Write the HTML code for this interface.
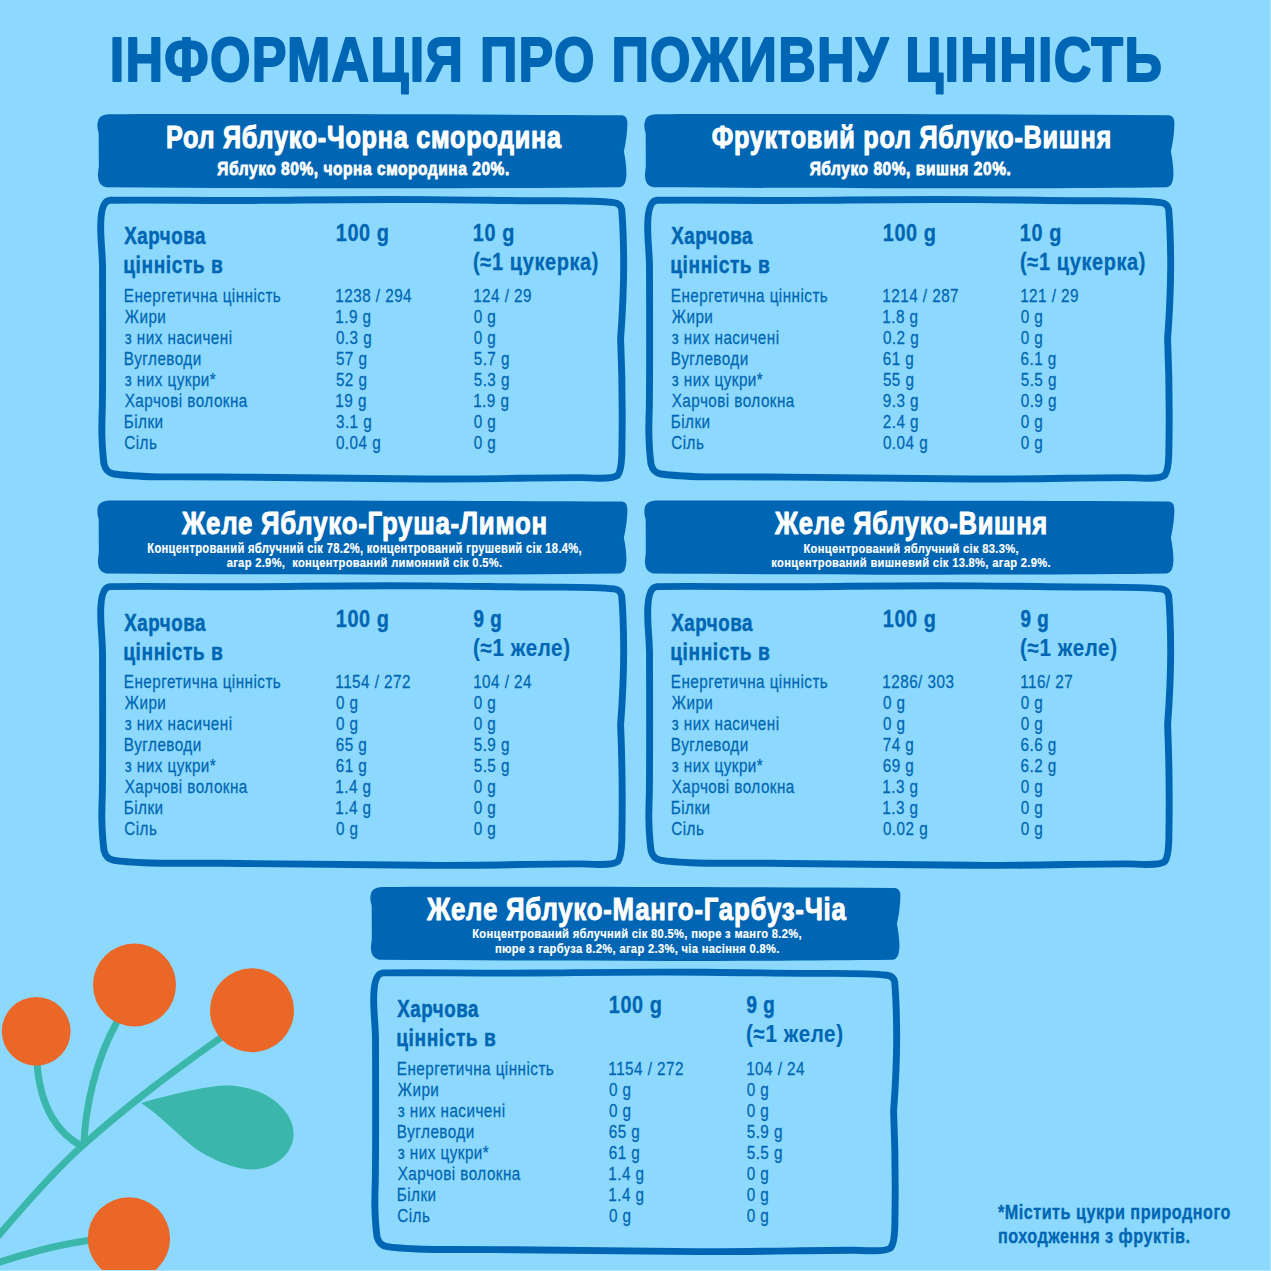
<!DOCTYPE html>
<html><head><meta charset="utf-8"><title>Інформація про поживну цінність</title>
<style>html,body{margin:0;padding:0;background:#8cd9fd;} body{width:1271px;height:1271px;overflow:hidden;font-family:"Liberation Sans",sans-serif;}</style>
</head><body>
<svg width="1271" height="1271" viewBox="0 0 1271 1271" style="display:block">
<defs>
<path id="banner" d="M108.5,114.3 C250,113.8 450,114.2 622,115.3 Q627.4,115.8 627.4,123.4 C627.3,132 626,142 623.9,151.5 C625.6,160 626.6,168 626.4,175 Q626,186.5 620,187.2 C480,188.9 300,188.6 106,187.2 Q98.2,185.5 97.9,176 C97.8,172 98.8,169.5 98.8,166 L98.7,133 C97.6,130 97.3,127 97.4,123.4 Q98,114.6 108.5,114.3 Z" fill="#0066b3"/>
<path id="box" d="M110,200.3 C160,199.6 200,200.9 260,200.4 C320,199.9 350,199.1 430,199.6 C480,199.9 520,200.9 560,200.8 C590,200.9 605,201.6 614,202.6 Q620.6,203.4 621.7,209.5 C622.6,220 623.6,245 623.7,265 C623.6,290 622,320 620.6,338.7 C622.4,380 622.5,420 621.8,455 C621.4,466 620.6,472 617.6,475.4 C614.6,478 608,478.3 598.9,478.2 C590,478 585,477.6 580,477.6 C540,477.5 480,479.4 424,479 C380,478.6 300,477.6 223,477 C190,476.8 160,477 150,476.7 C135,476 120,475 114,474 C108,473 105.5,470 104,464 C102.8,455 102,445 101.8,430 C102,420 102,415 102.3,409 C102.8,380 102.6,300 102.5,266 C102.2,250 100.5,240 100.7,225 Q101,201 110,200.3 Z" fill="none" stroke="#0066b3" stroke-width="6.9" stroke-linejoin="round"/>
</defs>
<rect width="1271" height="1271" fill="#8cd9fd"/>
<use href="#banner" transform="translate(0,0)"/><use href="#box" transform="translate(0,0)"/><use href="#banner" transform="translate(547,0)"/><use href="#box" transform="translate(547,0)"/><use href="#banner" transform="translate(0,386.3)"/><use href="#box" transform="translate(0,386.3)"/><use href="#banner" transform="translate(547,386.3)"/><use href="#box" transform="translate(547,386.3)"/><use href="#banner" transform="translate(273,772.6)"/><use href="#box" transform="translate(273,772.6)"/>

<g fill="none" stroke="#3bb6aa" stroke-width="7" stroke-linecap="round">
  <path d="M-6,1241 C20,1210 50,1175 82,1146 C130,1103 175,1070 226,1034"/>
  <path d="M82,1146 C60,1135 40,1110 37,1062"/>
  <path d="M84,1144 C85,1110 95,1060 118,1020"/>
  <path d="M-6,1264 C30,1252 60,1244 92,1240"/>
</g>
<path fill="#3bb6aa" d="M141,1103 C165,1096 205,1086 225,1085.5 C262,1085 293,1108 293.6,1133 C294,1156 272,1170 251,1169.5 C232,1169 210,1158 196,1149 C180,1137 160,1115 141,1103 Z"/>
<g fill="#ea6727">
  <circle cx="36.2" cy="1031.3" r="34.4"/>
  <circle cx="134.5" cy="985" r="41.5"/>
  <circle cx="252" cy="1010.3" r="42"/>
  <circle cx="128.9" cy="1238.5" r="41.2"/>
</g>

<rect x="0" y="1270" width="1271" height="1" fill="#aee6fe"/>
<rect x="1270" y="0" width="1" height="1271" fill="#aee6fe"/>
<g font-family="Liberation Sans, sans-serif" style="white-space:pre">
<text transform="matrix(0.8342 0 0 1 109.64 80.69)" font-size="62.36" font-weight="bold" fill="#0066b3" stroke="#0066b3" stroke-width="1.930" stroke-linejoin="round" letter-spacing="1.559">ІНФОРМАЦІЯ ПРО ПОЖИВНУ ЦІННІСТЬ</text>
<text transform="matrix(0.8121 0 0 1 165.96 147.56)" font-size="31.02" font-weight="bold" fill="#fff" stroke="#fff" stroke-width="1.075" stroke-linejoin="round" letter-spacing="0.931">Рол Яблуко-Чорна смородина</text>
<text transform="matrix(0.8337 0 0 1 217.37 175.40)" font-size="18.62" font-weight="bold" fill="#fff" stroke="#fff" stroke-width="0.797" stroke-linejoin="round" letter-spacing="0.652">Яблуко 80%, чорна смородина 20%.</text>
<text transform="matrix(0.8124 0 0 1 711.70 147.56)" font-size="31.02" font-weight="bold" fill="#fff" stroke="#fff" stroke-width="1.072" stroke-linejoin="round" letter-spacing="0.931">Фруктовий рол Яблуко-Вишня</text>
<text transform="matrix(0.8338 0 0 1 809.67 175.40)" font-size="18.62" font-weight="bold" fill="#fff" stroke="#fff" stroke-width="0.796" stroke-linejoin="round" letter-spacing="0.652">Яблуко 80%, вишня 20%.</text>
<text transform="matrix(0.8266 0 0 1 181.98 534.02)" font-size="31.20" font-weight="bold" fill="#fff" stroke="#fff" stroke-width="0.952" stroke-linejoin="round" letter-spacing="0.936">Желе Яблуко-Груша-Лимон</text>
<text transform="matrix(0.8140 0 0 1 147.23 552.61)" font-size="13.71" font-weight="bold" fill="#fff" stroke="#fff" stroke-width="0.176" stroke-linejoin="round" letter-spacing="0.411">Концентрований яблучний сік 78.2%, концентрований грушевий сік 18.4%,</text>
<text transform="matrix(0.8122 0 0 1 226.64 567.21)" font-size="13.70" font-weight="bold" fill="#fff" stroke="#fff" stroke-width="0.182" stroke-linejoin="round" letter-spacing="0.411">агар 2.9%, &#160;концентрований лимонний сік 0.5%.</text>
<text transform="matrix(0.8198 0 0 1 775.00 534.00)" font-size="31.12" font-weight="bold" fill="#fff" stroke="#fff" stroke-width="1.008" stroke-linejoin="round" letter-spacing="0.933">Желе Яблуко-Вишня</text>
<text transform="matrix(0.8130 0 0 1 803.43 552.61)" font-size="13.70" font-weight="bold" fill="#fff" stroke="#fff" stroke-width="0.179" stroke-linejoin="round" letter-spacing="0.411">Концентрований яблучний сік 83.3%,</text>
<text transform="matrix(0.8131 0 0 1 771.29 567.21)" font-size="13.70" font-weight="bold" fill="#fff" stroke="#fff" stroke-width="0.179" stroke-linejoin="round" letter-spacing="0.411">концентрований вишневий сік 13.8%, агар 2.9%.</text>
<text transform="matrix(0.8274 0 0 1 426.88 920.33)" font-size="31.21" font-weight="bold" fill="#fff" stroke="#fff" stroke-width="0.945" stroke-linejoin="round" letter-spacing="0.936">Желе Яблуко-Манго-Гарбуз-Чіа</text>
<text transform="matrix(0.8129 0 0 1 472.23 938.21)" font-size="13.70" font-weight="bold" fill="#fff" stroke="#fff" stroke-width="0.180" stroke-linejoin="round" letter-spacing="0.411">Концентрований яблучний сік 80.5%, пюре з манго 8.2%,</text>
<text transform="matrix(0.8129 0 0 1 494.89 952.81)" font-size="13.70" font-weight="bold" fill="#fff" stroke="#fff" stroke-width="0.180" stroke-linejoin="round" letter-spacing="0.411">пюре з гарбуза 8.2%, агар 2.3%, чіа насіння 0.8%.</text>
<text transform="matrix(0.8054 0 0 1 124.21 244.25)" font-size="23.28" font-weight="bold" fill="#0066b3" stroke="#0066b3" stroke-width="0.497" stroke-linejoin="round" letter-spacing="0.698">Харчова</text>
<text transform="matrix(0.8195 0 0 1 123.23 273.49)" font-size="23.40" font-weight="bold" fill="#0066b3" stroke="#0066b3" stroke-width="0.414" stroke-linejoin="round" letter-spacing="0.702">цінність в</text>
<text transform="matrix(0.8483 0 0 1 335.76 240.86)" font-size="23.45" font-weight="bold" fill="#0066b3" stroke="#0066b3" stroke-width="0.277" stroke-linejoin="round" letter-spacing="0.704">100 g</text>
<text transform="matrix(0.8478 0 0 1 472.86 240.86)" font-size="23.45" font-weight="bold" fill="#0066b3" stroke="#0066b3" stroke-width="0.280" stroke-linejoin="round" letter-spacing="0.703">10 g</text>
<text transform="matrix(0.8514 0 0 1 473.11 269.67)" font-size="23.48" font-weight="bold" fill="#0066b3" stroke="#0066b3" stroke-width="0.261" stroke-linejoin="round" letter-spacing="0.704">(≈1 цукерка)</text>
<text transform="matrix(0.8530 0 0 1 123.78 302.17)" font-size="17.90" font-weight="normal" fill="#0066b3" stroke="#0066b3" stroke-width="0.252" stroke-linejoin="round" letter-spacing="0.537">Енергетична цінність</text>
<text transform="matrix(0.8530 0 0 1 335.34 302.17)" font-size="17.90" font-weight="normal" fill="#0066b3" stroke="#0066b3" stroke-width="0.252" stroke-linejoin="round" letter-spacing="0.537">1238 / 294</text>
<text transform="matrix(0.8530 0 0 1 473.14 302.17)" font-size="17.90" font-weight="normal" fill="#0066b3" stroke="#0066b3" stroke-width="0.252" stroke-linejoin="round" letter-spacing="0.537">124 / 29</text>
<text transform="matrix(0.8530 0 0 1 124.85 323.17)" font-size="17.90" font-weight="normal" fill="#0066b3" stroke="#0066b3" stroke-width="0.252" stroke-linejoin="round" letter-spacing="0.537">Жири</text>
<text transform="matrix(0.8530 0 0 1 335.34 323.17)" font-size="17.90" font-weight="normal" fill="#0066b3" stroke="#0066b3" stroke-width="0.252" stroke-linejoin="round" letter-spacing="0.537">1.9 g</text>
<text transform="matrix(0.8530 0 0 1 473.70 323.17)" font-size="17.90" font-weight="normal" fill="#0066b3" stroke="#0066b3" stroke-width="0.252" stroke-linejoin="round" letter-spacing="0.537">0 g</text>
<text transform="matrix(0.8530 0 0 1 124.70 344.17)" font-size="17.90" font-weight="normal" fill="#0066b3" stroke="#0066b3" stroke-width="0.252" stroke-linejoin="round" letter-spacing="0.537">з них насичені</text>
<text transform="matrix(0.8530 0 0 1 335.90 344.17)" font-size="17.90" font-weight="normal" fill="#0066b3" stroke="#0066b3" stroke-width="0.252" stroke-linejoin="round" letter-spacing="0.537">0.3 g</text>
<text transform="matrix(0.8530 0 0 1 473.70 344.17)" font-size="17.90" font-weight="normal" fill="#0066b3" stroke="#0066b3" stroke-width="0.252" stroke-linejoin="round" letter-spacing="0.537">0 g</text>
<text transform="matrix(0.8530 0 0 1 123.78 365.17)" font-size="17.90" font-weight="normal" fill="#0066b3" stroke="#0066b3" stroke-width="0.252" stroke-linejoin="round" letter-spacing="0.537">Вуглеводи</text>
<text transform="matrix(0.8530 0 0 1 335.90 365.17)" font-size="17.90" font-weight="normal" fill="#0066b3" stroke="#0066b3" stroke-width="0.252" stroke-linejoin="round" letter-spacing="0.537">57 g</text>
<text transform="matrix(0.8530 0 0 1 473.70 365.17)" font-size="17.90" font-weight="normal" fill="#0066b3" stroke="#0066b3" stroke-width="0.252" stroke-linejoin="round" letter-spacing="0.537">5.7 g</text>
<text transform="matrix(0.8530 0 0 1 124.70 386.17)" font-size="17.90" font-weight="normal" fill="#0066b3" stroke="#0066b3" stroke-width="0.252" stroke-linejoin="round" letter-spacing="0.537">з них цукри*</text>
<text transform="matrix(0.8530 0 0 1 335.90 386.17)" font-size="17.90" font-weight="normal" fill="#0066b3" stroke="#0066b3" stroke-width="0.252" stroke-linejoin="round" letter-spacing="0.537">52 g</text>
<text transform="matrix(0.8530 0 0 1 473.70 386.17)" font-size="17.90" font-weight="normal" fill="#0066b3" stroke="#0066b3" stroke-width="0.252" stroke-linejoin="round" letter-spacing="0.537">5.3 g</text>
<text transform="matrix(0.8530 0 0 1 124.70 407.17)" font-size="17.90" font-weight="normal" fill="#0066b3" stroke="#0066b3" stroke-width="0.252" stroke-linejoin="round" letter-spacing="0.537">Харчові волокна</text>
<text transform="matrix(0.8530 0 0 1 335.34 407.17)" font-size="17.90" font-weight="normal" fill="#0066b3" stroke="#0066b3" stroke-width="0.252" stroke-linejoin="round" letter-spacing="0.537">19 g</text>
<text transform="matrix(0.8530 0 0 1 473.14 407.17)" font-size="17.90" font-weight="normal" fill="#0066b3" stroke="#0066b3" stroke-width="0.252" stroke-linejoin="round" letter-spacing="0.537">1.9 g</text>
<text transform="matrix(0.8530 0 0 1 123.78 428.17)" font-size="17.90" font-weight="normal" fill="#0066b3" stroke="#0066b3" stroke-width="0.252" stroke-linejoin="round" letter-spacing="0.537">Білки</text>
<text transform="matrix(0.8530 0 0 1 335.95 428.17)" font-size="17.90" font-weight="normal" fill="#0066b3" stroke="#0066b3" stroke-width="0.252" stroke-linejoin="round" letter-spacing="0.537">3.1 g</text>
<text transform="matrix(0.8530 0 0 1 473.70 428.17)" font-size="17.90" font-weight="normal" fill="#0066b3" stroke="#0066b3" stroke-width="0.252" stroke-linejoin="round" letter-spacing="0.537">0 g</text>
<text transform="matrix(0.8530 0 0 1 124.29 449.17)" font-size="17.90" font-weight="normal" fill="#0066b3" stroke="#0066b3" stroke-width="0.252" stroke-linejoin="round" letter-spacing="0.537">Сіль</text>
<text transform="matrix(0.8530 0 0 1 335.90 449.17)" font-size="17.90" font-weight="normal" fill="#0066b3" stroke="#0066b3" stroke-width="0.252" stroke-linejoin="round" letter-spacing="0.537">0.04 g</text>
<text transform="matrix(0.8530 0 0 1 473.70 449.17)" font-size="17.90" font-weight="normal" fill="#0066b3" stroke="#0066b3" stroke-width="0.252" stroke-linejoin="round" letter-spacing="0.537">0 g</text>
<text transform="matrix(0.8054 0 0 1 671.21 244.25)" font-size="23.28" font-weight="bold" fill="#0066b3" stroke="#0066b3" stroke-width="0.497" stroke-linejoin="round" letter-spacing="0.698">Харчова</text>
<text transform="matrix(0.8195 0 0 1 670.23 273.49)" font-size="23.40" font-weight="bold" fill="#0066b3" stroke="#0066b3" stroke-width="0.414" stroke-linejoin="round" letter-spacing="0.702">цінність в</text>
<text transform="matrix(0.8483 0 0 1 882.76 240.86)" font-size="23.45" font-weight="bold" fill="#0066b3" stroke="#0066b3" stroke-width="0.277" stroke-linejoin="round" letter-spacing="0.704">100 g</text>
<text transform="matrix(0.8478 0 0 1 1019.86 240.86)" font-size="23.45" font-weight="bold" fill="#0066b3" stroke="#0066b3" stroke-width="0.280" stroke-linejoin="round" letter-spacing="0.703">10 g</text>
<text transform="matrix(0.8514 0 0 1 1020.11 269.67)" font-size="23.48" font-weight="bold" fill="#0066b3" stroke="#0066b3" stroke-width="0.261" stroke-linejoin="round" letter-spacing="0.704">(≈1 цукерка)</text>
<text transform="matrix(0.8530 0 0 1 670.78 302.17)" font-size="17.90" font-weight="normal" fill="#0066b3" stroke="#0066b3" stroke-width="0.252" stroke-linejoin="round" letter-spacing="0.537">Енергетична цінність</text>
<text transform="matrix(0.8530 0 0 1 882.34 302.17)" font-size="17.90" font-weight="normal" fill="#0066b3" stroke="#0066b3" stroke-width="0.252" stroke-linejoin="round" letter-spacing="0.537">1214 / 287</text>
<text transform="matrix(0.8530 0 0 1 1020.14 302.17)" font-size="17.90" font-weight="normal" fill="#0066b3" stroke="#0066b3" stroke-width="0.252" stroke-linejoin="round" letter-spacing="0.537">121 / 29</text>
<text transform="matrix(0.8530 0 0 1 671.85 323.17)" font-size="17.90" font-weight="normal" fill="#0066b3" stroke="#0066b3" stroke-width="0.252" stroke-linejoin="round" letter-spacing="0.537">Жири</text>
<text transform="matrix(0.8530 0 0 1 882.34 323.17)" font-size="17.90" font-weight="normal" fill="#0066b3" stroke="#0066b3" stroke-width="0.252" stroke-linejoin="round" letter-spacing="0.537">1.8 g</text>
<text transform="matrix(0.8530 0 0 1 1020.70 323.17)" font-size="17.90" font-weight="normal" fill="#0066b3" stroke="#0066b3" stroke-width="0.252" stroke-linejoin="round" letter-spacing="0.537">0 g</text>
<text transform="matrix(0.8530 0 0 1 671.70 344.17)" font-size="17.90" font-weight="normal" fill="#0066b3" stroke="#0066b3" stroke-width="0.252" stroke-linejoin="round" letter-spacing="0.537">з них насичені</text>
<text transform="matrix(0.8530 0 0 1 882.90 344.17)" font-size="17.90" font-weight="normal" fill="#0066b3" stroke="#0066b3" stroke-width="0.252" stroke-linejoin="round" letter-spacing="0.537">0.2 g</text>
<text transform="matrix(0.8530 0 0 1 1020.70 344.17)" font-size="17.90" font-weight="normal" fill="#0066b3" stroke="#0066b3" stroke-width="0.252" stroke-linejoin="round" letter-spacing="0.537">0 g</text>
<text transform="matrix(0.8530 0 0 1 670.78 365.17)" font-size="17.90" font-weight="normal" fill="#0066b3" stroke="#0066b3" stroke-width="0.252" stroke-linejoin="round" letter-spacing="0.537">Вуглеводи</text>
<text transform="matrix(0.8530 0 0 1 882.74 365.17)" font-size="17.90" font-weight="normal" fill="#0066b3" stroke="#0066b3" stroke-width="0.252" stroke-linejoin="round" letter-spacing="0.537">61 g</text>
<text transform="matrix(0.8530 0 0 1 1020.54 365.17)" font-size="17.90" font-weight="normal" fill="#0066b3" stroke="#0066b3" stroke-width="0.252" stroke-linejoin="round" letter-spacing="0.537">6.1 g</text>
<text transform="matrix(0.8530 0 0 1 671.70 386.17)" font-size="17.90" font-weight="normal" fill="#0066b3" stroke="#0066b3" stroke-width="0.252" stroke-linejoin="round" letter-spacing="0.537">з них цукри*</text>
<text transform="matrix(0.8530 0 0 1 882.90 386.17)" font-size="17.90" font-weight="normal" fill="#0066b3" stroke="#0066b3" stroke-width="0.252" stroke-linejoin="round" letter-spacing="0.537">55 g</text>
<text transform="matrix(0.8530 0 0 1 1020.70 386.17)" font-size="17.90" font-weight="normal" fill="#0066b3" stroke="#0066b3" stroke-width="0.252" stroke-linejoin="round" letter-spacing="0.537">5.5 g</text>
<text transform="matrix(0.8530 0 0 1 671.70 407.17)" font-size="17.90" font-weight="normal" fill="#0066b3" stroke="#0066b3" stroke-width="0.252" stroke-linejoin="round" letter-spacing="0.537">Харчові волокна</text>
<text transform="matrix(0.8530 0 0 1 882.79 407.17)" font-size="17.90" font-weight="normal" fill="#0066b3" stroke="#0066b3" stroke-width="0.252" stroke-linejoin="round" letter-spacing="0.537">9.3 g</text>
<text transform="matrix(0.8530 0 0 1 1020.70 407.17)" font-size="17.90" font-weight="normal" fill="#0066b3" stroke="#0066b3" stroke-width="0.252" stroke-linejoin="round" letter-spacing="0.537">0.9 g</text>
<text transform="matrix(0.8530 0 0 1 670.78 428.17)" font-size="17.90" font-weight="normal" fill="#0066b3" stroke="#0066b3" stroke-width="0.252" stroke-linejoin="round" letter-spacing="0.537">Білки</text>
<text transform="matrix(0.8530 0 0 1 882.74 428.17)" font-size="17.90" font-weight="normal" fill="#0066b3" stroke="#0066b3" stroke-width="0.252" stroke-linejoin="round" letter-spacing="0.537">2.4 g</text>
<text transform="matrix(0.8530 0 0 1 1020.70 428.17)" font-size="17.90" font-weight="normal" fill="#0066b3" stroke="#0066b3" stroke-width="0.252" stroke-linejoin="round" letter-spacing="0.537">0 g</text>
<text transform="matrix(0.8530 0 0 1 671.29 449.17)" font-size="17.90" font-weight="normal" fill="#0066b3" stroke="#0066b3" stroke-width="0.252" stroke-linejoin="round" letter-spacing="0.537">Сіль</text>
<text transform="matrix(0.8530 0 0 1 882.90 449.17)" font-size="17.90" font-weight="normal" fill="#0066b3" stroke="#0066b3" stroke-width="0.252" stroke-linejoin="round" letter-spacing="0.537">0.04 g</text>
<text transform="matrix(0.8530 0 0 1 1020.70 449.17)" font-size="17.90" font-weight="normal" fill="#0066b3" stroke="#0066b3" stroke-width="0.252" stroke-linejoin="round" letter-spacing="0.537">0 g</text>
<text transform="matrix(0.8054 0 0 1 124.21 630.55)" font-size="23.28" font-weight="bold" fill="#0066b3" stroke="#0066b3" stroke-width="0.497" stroke-linejoin="round" letter-spacing="0.698">Харчова</text>
<text transform="matrix(0.8195 0 0 1 123.23 659.79)" font-size="23.40" font-weight="bold" fill="#0066b3" stroke="#0066b3" stroke-width="0.414" stroke-linejoin="round" letter-spacing="0.702">цінність в</text>
<text transform="matrix(0.8483 0 0 1 335.76 627.16)" font-size="23.45" font-weight="bold" fill="#0066b3" stroke="#0066b3" stroke-width="0.277" stroke-linejoin="round" letter-spacing="0.704">100 g</text>
<text transform="matrix(0.8101 0 0 1 473.58 627.05)" font-size="23.13" font-weight="bold" fill="#0066b3" stroke="#0066b3" stroke-width="0.496" stroke-linejoin="round" letter-spacing="0.694">9 g</text>
<text transform="matrix(0.8702 0 0 1 473.04 656.02)" font-size="23.62" font-weight="bold" fill="#0066b3" stroke="#0066b3" stroke-width="0.161" stroke-linejoin="round" letter-spacing="0.709">(≈1 желе)</text>
<text transform="matrix(0.8530 0 0 1 123.78 688.47)" font-size="17.90" font-weight="normal" fill="#0066b3" stroke="#0066b3" stroke-width="0.252" stroke-linejoin="round" letter-spacing="0.537">Енергетична цінність</text>
<text transform="matrix(0.8530 0 0 1 335.34 688.47)" font-size="17.90" font-weight="normal" fill="#0066b3" stroke="#0066b3" stroke-width="0.252" stroke-linejoin="round" letter-spacing="0.537">1154 / 272</text>
<text transform="matrix(0.8530 0 0 1 473.14 688.47)" font-size="17.90" font-weight="normal" fill="#0066b3" stroke="#0066b3" stroke-width="0.252" stroke-linejoin="round" letter-spacing="0.537">104 / 24</text>
<text transform="matrix(0.8530 0 0 1 124.85 709.47)" font-size="17.90" font-weight="normal" fill="#0066b3" stroke="#0066b3" stroke-width="0.252" stroke-linejoin="round" letter-spacing="0.537">Жири</text>
<text transform="matrix(0.8530 0 0 1 335.90 709.47)" font-size="17.90" font-weight="normal" fill="#0066b3" stroke="#0066b3" stroke-width="0.252" stroke-linejoin="round" letter-spacing="0.537">0 g</text>
<text transform="matrix(0.8530 0 0 1 473.70 709.47)" font-size="17.90" font-weight="normal" fill="#0066b3" stroke="#0066b3" stroke-width="0.252" stroke-linejoin="round" letter-spacing="0.537">0 g</text>
<text transform="matrix(0.8530 0 0 1 124.70 730.47)" font-size="17.90" font-weight="normal" fill="#0066b3" stroke="#0066b3" stroke-width="0.252" stroke-linejoin="round" letter-spacing="0.537">з них насичені</text>
<text transform="matrix(0.8530 0 0 1 335.90 730.47)" font-size="17.90" font-weight="normal" fill="#0066b3" stroke="#0066b3" stroke-width="0.252" stroke-linejoin="round" letter-spacing="0.537">0 g</text>
<text transform="matrix(0.8530 0 0 1 473.70 730.47)" font-size="17.90" font-weight="normal" fill="#0066b3" stroke="#0066b3" stroke-width="0.252" stroke-linejoin="round" letter-spacing="0.537">0 g</text>
<text transform="matrix(0.8530 0 0 1 123.78 751.47)" font-size="17.90" font-weight="normal" fill="#0066b3" stroke="#0066b3" stroke-width="0.252" stroke-linejoin="round" letter-spacing="0.537">Вуглеводи</text>
<text transform="matrix(0.8530 0 0 1 335.74 751.47)" font-size="17.90" font-weight="normal" fill="#0066b3" stroke="#0066b3" stroke-width="0.252" stroke-linejoin="round" letter-spacing="0.537">65 g</text>
<text transform="matrix(0.8530 0 0 1 473.70 751.47)" font-size="17.90" font-weight="normal" fill="#0066b3" stroke="#0066b3" stroke-width="0.252" stroke-linejoin="round" letter-spacing="0.537">5.9 g</text>
<text transform="matrix(0.8530 0 0 1 124.70 772.47)" font-size="17.90" font-weight="normal" fill="#0066b3" stroke="#0066b3" stroke-width="0.252" stroke-linejoin="round" letter-spacing="0.537">з них цукри*</text>
<text transform="matrix(0.8530 0 0 1 335.74 772.47)" font-size="17.90" font-weight="normal" fill="#0066b3" stroke="#0066b3" stroke-width="0.252" stroke-linejoin="round" letter-spacing="0.537">61 g</text>
<text transform="matrix(0.8530 0 0 1 473.70 772.47)" font-size="17.90" font-weight="normal" fill="#0066b3" stroke="#0066b3" stroke-width="0.252" stroke-linejoin="round" letter-spacing="0.537">5.5 g</text>
<text transform="matrix(0.8530 0 0 1 124.70 793.47)" font-size="17.90" font-weight="normal" fill="#0066b3" stroke="#0066b3" stroke-width="0.252" stroke-linejoin="round" letter-spacing="0.537">Харчові волокна</text>
<text transform="matrix(0.8530 0 0 1 335.34 793.47)" font-size="17.90" font-weight="normal" fill="#0066b3" stroke="#0066b3" stroke-width="0.252" stroke-linejoin="round" letter-spacing="0.537">1.4 g</text>
<text transform="matrix(0.8530 0 0 1 473.70 793.47)" font-size="17.90" font-weight="normal" fill="#0066b3" stroke="#0066b3" stroke-width="0.252" stroke-linejoin="round" letter-spacing="0.537">0 g</text>
<text transform="matrix(0.8530 0 0 1 123.78 814.47)" font-size="17.90" font-weight="normal" fill="#0066b3" stroke="#0066b3" stroke-width="0.252" stroke-linejoin="round" letter-spacing="0.537">Білки</text>
<text transform="matrix(0.8530 0 0 1 335.34 814.47)" font-size="17.90" font-weight="normal" fill="#0066b3" stroke="#0066b3" stroke-width="0.252" stroke-linejoin="round" letter-spacing="0.537">1.4 g</text>
<text transform="matrix(0.8530 0 0 1 473.70 814.47)" font-size="17.90" font-weight="normal" fill="#0066b3" stroke="#0066b3" stroke-width="0.252" stroke-linejoin="round" letter-spacing="0.537">0 g</text>
<text transform="matrix(0.8530 0 0 1 124.29 835.47)" font-size="17.90" font-weight="normal" fill="#0066b3" stroke="#0066b3" stroke-width="0.252" stroke-linejoin="round" letter-spacing="0.537">Сіль</text>
<text transform="matrix(0.8530 0 0 1 335.90 835.47)" font-size="17.90" font-weight="normal" fill="#0066b3" stroke="#0066b3" stroke-width="0.252" stroke-linejoin="round" letter-spacing="0.537">0 g</text>
<text transform="matrix(0.8530 0 0 1 473.70 835.47)" font-size="17.90" font-weight="normal" fill="#0066b3" stroke="#0066b3" stroke-width="0.252" stroke-linejoin="round" letter-spacing="0.537">0 g</text>
<text transform="matrix(0.8054 0 0 1 671.21 630.55)" font-size="23.28" font-weight="bold" fill="#0066b3" stroke="#0066b3" stroke-width="0.497" stroke-linejoin="round" letter-spacing="0.698">Харчова</text>
<text transform="matrix(0.8195 0 0 1 670.23 659.79)" font-size="23.40" font-weight="bold" fill="#0066b3" stroke="#0066b3" stroke-width="0.414" stroke-linejoin="round" letter-spacing="0.702">цінність в</text>
<text transform="matrix(0.8483 0 0 1 882.76 627.16)" font-size="23.45" font-weight="bold" fill="#0066b3" stroke="#0066b3" stroke-width="0.277" stroke-linejoin="round" letter-spacing="0.704">100 g</text>
<text transform="matrix(0.8101 0 0 1 1020.58 627.05)" font-size="23.13" font-weight="bold" fill="#0066b3" stroke="#0066b3" stroke-width="0.496" stroke-linejoin="round" letter-spacing="0.694">9 g</text>
<text transform="matrix(0.8702 0 0 1 1020.04 656.02)" font-size="23.62" font-weight="bold" fill="#0066b3" stroke="#0066b3" stroke-width="0.161" stroke-linejoin="round" letter-spacing="0.709">(≈1 желе)</text>
<text transform="matrix(0.8530 0 0 1 670.78 688.47)" font-size="17.90" font-weight="normal" fill="#0066b3" stroke="#0066b3" stroke-width="0.252" stroke-linejoin="round" letter-spacing="0.537">Енергетична цінність</text>
<text transform="matrix(0.8530 0 0 1 882.34 688.47)" font-size="17.90" font-weight="normal" fill="#0066b3" stroke="#0066b3" stroke-width="0.252" stroke-linejoin="round" letter-spacing="0.537">1286/ 303</text>
<text transform="matrix(0.8530 0 0 1 1020.14 688.47)" font-size="17.90" font-weight="normal" fill="#0066b3" stroke="#0066b3" stroke-width="0.252" stroke-linejoin="round" letter-spacing="0.537">116/ 27</text>
<text transform="matrix(0.8530 0 0 1 671.85 709.47)" font-size="17.90" font-weight="normal" fill="#0066b3" stroke="#0066b3" stroke-width="0.252" stroke-linejoin="round" letter-spacing="0.537">Жири</text>
<text transform="matrix(0.8530 0 0 1 882.90 709.47)" font-size="17.90" font-weight="normal" fill="#0066b3" stroke="#0066b3" stroke-width="0.252" stroke-linejoin="round" letter-spacing="0.537">0 g</text>
<text transform="matrix(0.8530 0 0 1 1020.70 709.47)" font-size="17.90" font-weight="normal" fill="#0066b3" stroke="#0066b3" stroke-width="0.252" stroke-linejoin="round" letter-spacing="0.537">0 g</text>
<text transform="matrix(0.8530 0 0 1 671.70 730.47)" font-size="17.90" font-weight="normal" fill="#0066b3" stroke="#0066b3" stroke-width="0.252" stroke-linejoin="round" letter-spacing="0.537">з них насичені</text>
<text transform="matrix(0.8530 0 0 1 882.90 730.47)" font-size="17.90" font-weight="normal" fill="#0066b3" stroke="#0066b3" stroke-width="0.252" stroke-linejoin="round" letter-spacing="0.537">0 g</text>
<text transform="matrix(0.8530 0 0 1 1020.70 730.47)" font-size="17.90" font-weight="normal" fill="#0066b3" stroke="#0066b3" stroke-width="0.252" stroke-linejoin="round" letter-spacing="0.537">0 g</text>
<text transform="matrix(0.8530 0 0 1 670.78 751.47)" font-size="17.90" font-weight="normal" fill="#0066b3" stroke="#0066b3" stroke-width="0.252" stroke-linejoin="round" letter-spacing="0.537">Вуглеводи</text>
<text transform="matrix(0.8530 0 0 1 882.74 751.47)" font-size="17.90" font-weight="normal" fill="#0066b3" stroke="#0066b3" stroke-width="0.252" stroke-linejoin="round" letter-spacing="0.537">74 g</text>
<text transform="matrix(0.8530 0 0 1 1020.54 751.47)" font-size="17.90" font-weight="normal" fill="#0066b3" stroke="#0066b3" stroke-width="0.252" stroke-linejoin="round" letter-spacing="0.537">6.6 g</text>
<text transform="matrix(0.8530 0 0 1 671.70 772.47)" font-size="17.90" font-weight="normal" fill="#0066b3" stroke="#0066b3" stroke-width="0.252" stroke-linejoin="round" letter-spacing="0.537">з них цукри*</text>
<text transform="matrix(0.8530 0 0 1 882.74 772.47)" font-size="17.90" font-weight="normal" fill="#0066b3" stroke="#0066b3" stroke-width="0.252" stroke-linejoin="round" letter-spacing="0.537">69 g</text>
<text transform="matrix(0.8530 0 0 1 1020.54 772.47)" font-size="17.90" font-weight="normal" fill="#0066b3" stroke="#0066b3" stroke-width="0.252" stroke-linejoin="round" letter-spacing="0.537">6.2 g</text>
<text transform="matrix(0.8530 0 0 1 671.70 793.47)" font-size="17.90" font-weight="normal" fill="#0066b3" stroke="#0066b3" stroke-width="0.252" stroke-linejoin="round" letter-spacing="0.537">Харчові волокна</text>
<text transform="matrix(0.8530 0 0 1 882.34 793.47)" font-size="17.90" font-weight="normal" fill="#0066b3" stroke="#0066b3" stroke-width="0.252" stroke-linejoin="round" letter-spacing="0.537">1.3 g</text>
<text transform="matrix(0.8530 0 0 1 1020.70 793.47)" font-size="17.90" font-weight="normal" fill="#0066b3" stroke="#0066b3" stroke-width="0.252" stroke-linejoin="round" letter-spacing="0.537">0 g</text>
<text transform="matrix(0.8530 0 0 1 670.78 814.47)" font-size="17.90" font-weight="normal" fill="#0066b3" stroke="#0066b3" stroke-width="0.252" stroke-linejoin="round" letter-spacing="0.537">Білки</text>
<text transform="matrix(0.8530 0 0 1 882.34 814.47)" font-size="17.90" font-weight="normal" fill="#0066b3" stroke="#0066b3" stroke-width="0.252" stroke-linejoin="round" letter-spacing="0.537">1.3 g</text>
<text transform="matrix(0.8530 0 0 1 1020.70 814.47)" font-size="17.90" font-weight="normal" fill="#0066b3" stroke="#0066b3" stroke-width="0.252" stroke-linejoin="round" letter-spacing="0.537">0 g</text>
<text transform="matrix(0.8530 0 0 1 671.29 835.47)" font-size="17.90" font-weight="normal" fill="#0066b3" stroke="#0066b3" stroke-width="0.252" stroke-linejoin="round" letter-spacing="0.537">Сіль</text>
<text transform="matrix(0.8530 0 0 1 882.90 835.47)" font-size="17.90" font-weight="normal" fill="#0066b3" stroke="#0066b3" stroke-width="0.252" stroke-linejoin="round" letter-spacing="0.537">0.02 g</text>
<text transform="matrix(0.8530 0 0 1 1020.70 835.47)" font-size="17.90" font-weight="normal" fill="#0066b3" stroke="#0066b3" stroke-width="0.252" stroke-linejoin="round" letter-spacing="0.537">0 g</text>
<text transform="matrix(0.8054 0 0 1 397.21 1016.75)" font-size="23.28" font-weight="bold" fill="#0066b3" stroke="#0066b3" stroke-width="0.497" stroke-linejoin="round" letter-spacing="0.698">Харчова</text>
<text transform="matrix(0.8195 0 0 1 396.23 1045.99)" font-size="23.40" font-weight="bold" fill="#0066b3" stroke="#0066b3" stroke-width="0.414" stroke-linejoin="round" letter-spacing="0.702">цінність в</text>
<text transform="matrix(0.8483 0 0 1 608.76 1013.36)" font-size="23.45" font-weight="bold" fill="#0066b3" stroke="#0066b3" stroke-width="0.277" stroke-linejoin="round" letter-spacing="0.704">100 g</text>
<text transform="matrix(0.8101 0 0 1 746.58 1013.25)" font-size="23.13" font-weight="bold" fill="#0066b3" stroke="#0066b3" stroke-width="0.496" stroke-linejoin="round" letter-spacing="0.694">9 g</text>
<text transform="matrix(0.8702 0 0 1 746.04 1042.22)" font-size="23.62" font-weight="bold" fill="#0066b3" stroke="#0066b3" stroke-width="0.161" stroke-linejoin="round" letter-spacing="0.709">(≈1 желе)</text>
<text transform="matrix(0.8530 0 0 1 396.78 1074.67)" font-size="17.90" font-weight="normal" fill="#0066b3" stroke="#0066b3" stroke-width="0.252" stroke-linejoin="round" letter-spacing="0.537">Енергетична цінність</text>
<text transform="matrix(0.8530 0 0 1 608.34 1074.67)" font-size="17.90" font-weight="normal" fill="#0066b3" stroke="#0066b3" stroke-width="0.252" stroke-linejoin="round" letter-spacing="0.537">1154 / 272</text>
<text transform="matrix(0.8530 0 0 1 746.14 1074.67)" font-size="17.90" font-weight="normal" fill="#0066b3" stroke="#0066b3" stroke-width="0.252" stroke-linejoin="round" letter-spacing="0.537">104 / 24</text>
<text transform="matrix(0.8530 0 0 1 397.85 1095.67)" font-size="17.90" font-weight="normal" fill="#0066b3" stroke="#0066b3" stroke-width="0.252" stroke-linejoin="round" letter-spacing="0.537">Жири</text>
<text transform="matrix(0.8530 0 0 1 608.90 1095.67)" font-size="17.90" font-weight="normal" fill="#0066b3" stroke="#0066b3" stroke-width="0.252" stroke-linejoin="round" letter-spacing="0.537">0 g</text>
<text transform="matrix(0.8530 0 0 1 746.70 1095.67)" font-size="17.90" font-weight="normal" fill="#0066b3" stroke="#0066b3" stroke-width="0.252" stroke-linejoin="round" letter-spacing="0.537">0 g</text>
<text transform="matrix(0.8530 0 0 1 397.70 1116.67)" font-size="17.90" font-weight="normal" fill="#0066b3" stroke="#0066b3" stroke-width="0.252" stroke-linejoin="round" letter-spacing="0.537">з них насичені</text>
<text transform="matrix(0.8530 0 0 1 608.90 1116.67)" font-size="17.90" font-weight="normal" fill="#0066b3" stroke="#0066b3" stroke-width="0.252" stroke-linejoin="round" letter-spacing="0.537">0 g</text>
<text transform="matrix(0.8530 0 0 1 746.70 1116.67)" font-size="17.90" font-weight="normal" fill="#0066b3" stroke="#0066b3" stroke-width="0.252" stroke-linejoin="round" letter-spacing="0.537">0 g</text>
<text transform="matrix(0.8530 0 0 1 396.78 1137.67)" font-size="17.90" font-weight="normal" fill="#0066b3" stroke="#0066b3" stroke-width="0.252" stroke-linejoin="round" letter-spacing="0.537">Вуглеводи</text>
<text transform="matrix(0.8530 0 0 1 608.74 1137.67)" font-size="17.90" font-weight="normal" fill="#0066b3" stroke="#0066b3" stroke-width="0.252" stroke-linejoin="round" letter-spacing="0.537">65 g</text>
<text transform="matrix(0.8530 0 0 1 746.70 1137.67)" font-size="17.90" font-weight="normal" fill="#0066b3" stroke="#0066b3" stroke-width="0.252" stroke-linejoin="round" letter-spacing="0.537">5.9 g</text>
<text transform="matrix(0.8530 0 0 1 397.70 1158.67)" font-size="17.90" font-weight="normal" fill="#0066b3" stroke="#0066b3" stroke-width="0.252" stroke-linejoin="round" letter-spacing="0.537">з них цукри*</text>
<text transform="matrix(0.8530 0 0 1 608.74 1158.67)" font-size="17.90" font-weight="normal" fill="#0066b3" stroke="#0066b3" stroke-width="0.252" stroke-linejoin="round" letter-spacing="0.537">61 g</text>
<text transform="matrix(0.8530 0 0 1 746.70 1158.67)" font-size="17.90" font-weight="normal" fill="#0066b3" stroke="#0066b3" stroke-width="0.252" stroke-linejoin="round" letter-spacing="0.537">5.5 g</text>
<text transform="matrix(0.8530 0 0 1 397.70 1179.67)" font-size="17.90" font-weight="normal" fill="#0066b3" stroke="#0066b3" stroke-width="0.252" stroke-linejoin="round" letter-spacing="0.537">Харчові волокна</text>
<text transform="matrix(0.8530 0 0 1 608.34 1179.67)" font-size="17.90" font-weight="normal" fill="#0066b3" stroke="#0066b3" stroke-width="0.252" stroke-linejoin="round" letter-spacing="0.537">1.4 g</text>
<text transform="matrix(0.8530 0 0 1 746.70 1179.67)" font-size="17.90" font-weight="normal" fill="#0066b3" stroke="#0066b3" stroke-width="0.252" stroke-linejoin="round" letter-spacing="0.537">0 g</text>
<text transform="matrix(0.8530 0 0 1 396.78 1200.67)" font-size="17.90" font-weight="normal" fill="#0066b3" stroke="#0066b3" stroke-width="0.252" stroke-linejoin="round" letter-spacing="0.537">Білки</text>
<text transform="matrix(0.8530 0 0 1 608.34 1200.67)" font-size="17.90" font-weight="normal" fill="#0066b3" stroke="#0066b3" stroke-width="0.252" stroke-linejoin="round" letter-spacing="0.537">1.4 g</text>
<text transform="matrix(0.8530 0 0 1 746.70 1200.67)" font-size="17.90" font-weight="normal" fill="#0066b3" stroke="#0066b3" stroke-width="0.252" stroke-linejoin="round" letter-spacing="0.537">0 g</text>
<text transform="matrix(0.8530 0 0 1 397.29 1221.67)" font-size="17.90" font-weight="normal" fill="#0066b3" stroke="#0066b3" stroke-width="0.252" stroke-linejoin="round" letter-spacing="0.537">Сіль</text>
<text transform="matrix(0.8530 0 0 1 608.90 1221.67)" font-size="17.90" font-weight="normal" fill="#0066b3" stroke="#0066b3" stroke-width="0.252" stroke-linejoin="round" letter-spacing="0.537">0 g</text>
<text transform="matrix(0.8530 0 0 1 746.70 1221.67)" font-size="17.90" font-weight="normal" fill="#0066b3" stroke="#0066b3" stroke-width="0.252" stroke-linejoin="round" letter-spacing="0.537">0 g</text>
<text transform="matrix(0.7816 0 0 1 997.98 1218.83)" font-size="20.74" font-weight="bold" fill="#0066b3" stroke="#0066b3" stroke-width="0.340" stroke-linejoin="round" letter-spacing="0.622">*Містить цукри природного</text>
<text transform="matrix(0.7818 0 0 1 998.00 1242.83)" font-size="20.74" font-weight="bold" fill="#0066b3" stroke="#0066b3" stroke-width="0.339" stroke-linejoin="round" letter-spacing="0.622">походження з фруктів.</text>
</g>
</svg>
</body></html>
